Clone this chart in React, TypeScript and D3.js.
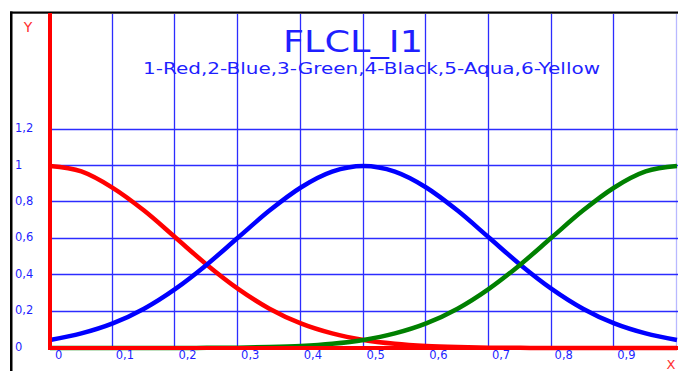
import React, { useEffect, useRef } from 'react';
import * as d3 from 'd3';

const xs = [0, 0.05, 0.1, 0.15, 0.2, 0.25, 0.3, 0.35, 0.4, 0.45, 0.5,
  0.55, 0.6, 0.65, 0.7, 0.75, 0.8, 0.85, 0.9, 0.95, 1];
const redValues = [1, 0.97, 0.88, 0.755, 0.607, 0.458, 0.325, 0.216, 0.135, 0.08, 0.044,
  0.023, 0.011, 0.005, 0.002, 0.001, 0, 0, 0, 0, 0];
const blueValues = [0.044, 0.08, 0.135, 0.216, 0.325, 0.458, 0.607, 0.755, 0.882, 0.969, 1,
  0.969, 0.882, 0.755, 0.607, 0.458, 0.325, 0.216, 0.135, 0.08, 0.044];
const greenValues = [0, 0, 0, 0, 0, 0.001, 0.002, 0.005, 0.011, 0.023, 0.044,
  0.08, 0.135, 0.216, 0.325, 0.458, 0.607, 0.755, 0.882, 0.97, 1];

const xTicks = [0, 0.1, 0.2, 0.3, 0.4, 0.5, 0.6, 0.7, 0.8, 0.9];
const xTickLabels = ['0', '0,1', '0,2', '0,3', '0,4', '0,5', '0,6', '0,7', '0,8', '0,9'];
const yTicks = [0, 0.2, 0.4, 0.6, 0.8, 1, 1.2];
const yTickLabels = ['0', '0,2', '0,4', '0,6', '0,8', '1', '1,2'];
const xGrid = [0.1, 0.2, 0.3, 0.4, 0.5, 0.6, 0.7, 0.8, 0.9, 1];
const yGrid = [0.2, 0.4, 0.6, 0.8, 1, 1.2];

const title = 'FLCL_I1';
const subtitle = '1-Red,2-Blue,3-Green,4-Black,5-Aqua,6-Yellow';

const series = [
  { name: 'Red', values: redValues, color: '#ff0000' },
  { name: 'Blue', values: blueValues, color: '#0000ff' },
  { name: 'Green', values: greenValues, color: '#008000' },
];

export default function App() {
  const node = useRef<SVGSVGElement>(null);

  useEffect(() => {
    const width = 678;
    const height = 371;
    const top = 13;
    const font = '"DejaVu Sans", Verdana, sans-serif';
    const gridColor = '#2c2cff';
    const textColor = '#1f1fff';

    const svg = d3.select(node.current);
    svg.selectAll('*').remove();

    const xScale = d3.scaleLinear().domain([0, 1]).range([50, 677]);
    const yScale = d3.scaleLinear().domain([0, 1]).range([348, 166]);

    svg.append('rect')
      .attr('width', width).attr('height', height).attr('fill', '#fff');

    // frame (left and top only, the rest is off the picture)
    svg.append('rect')
      .attr('x', 10).attr('y', 11.5)
      .attr('width', 2.5).attr('height', height)
      .attr('fill', '#000');
    svg.append('rect')
      .attr('x', 10).attr('y', 11.5)
      .attr('width', width).attr('height', 2.2)
      .attr('fill', '#000');

    // grid
    const grid = svg.append('g').attr('id', 'grid');
    grid.selectAll('line.v')
      .data(xGrid)
      .enter()
      .append('line')
      .attr('class', 'v')
      .attr('x1', (d) => Math.round(xScale(d)) - 0.5)
      .attr('x2', (d) => Math.round(xScale(d)) - 0.5)
      .attr('y1', top + 1)
      .attr('y2', yScale(0))
      .attr('stroke', (d) => (d === 1 ? '#b8b8ff' : gridColor))
      .attr('stroke-width', 1.3);
    grid.selectAll('line.h')
      .data(yGrid)
      .enter()
      .append('line')
      .attr('class', 'h')
      .attr('x1', xScale(0))
      .attr('x2', width)
      .attr('y1', (d) => Math.round(yScale(d)) - 0.5)
      .attr('y2', (d) => Math.round(yScale(d)) - 0.5)
      .attr('stroke', gridColor)
      .attr('stroke-width', 1.3);

    // titles
    svg.append('text')
      .attr('x', 283).attr('y', 52)
      .attr('textLength', 140)
      .attr('lengthAdjust', 'spacingAndGlyphs')
      .style('font-family', font)
      .style('font-size', '30px')
      .attr('fill', textColor)
      .text(title);
    svg.append('text')
      .attr('x', 143).attr('y', 74)
      .attr('textLength', 457)
      .attr('lengthAdjust', 'spacingAndGlyphs')
      .style('font-family', font)
      .style('font-size', '15px')
      .attr('fill', textColor)
      .text(subtitle);

    // curves
    const line = d3.line<number>()
      .x((_, i) => xScale(xs[i]))
      .y((d) => yScale(d))
      .curve(d3.curveMonotoneX);
    svg.selectAll('path.curve')
      .data(series)
      .enter()
      .append('path')
      .attr('class', 'curve')
      .attr('d', (d) => line(d.values))
      .attr('fill', 'none')
      .attr('stroke', (d) => d.color)
      .attr('stroke-width', 4.5);

    // axes
    svg.append('line')
      .attr('x1', 50).attr('x2', 50)
      .attr('y1', top).attr('y2', 350)
      .attr('stroke', '#ff0000').attr('stroke-width', 4);
    svg.append('line')
      .attr('x1', 48).attr('x2', width)
      .attr('y1', 348).attr('y2', 348)
      .attr('stroke', '#ff0000').attr('stroke-width', 4);

    // tick labels
    svg.selectAll('text.xt')
      .data(xTicks)
      .enter()
      .append('text')
      .attr('class', 'xt')
      .attr('x', (d) => xScale(d) + (d === 0 ? 5 : 3))
      .attr('y', 359)
      .style('font-family', font)
      .style('font-size', '11.5px')
      .attr('fill', textColor)
      .text((d, i) => xTickLabels[i]);
    svg.selectAll('text.yt')
      .data(yTicks)
      .enter()
      .append('text')
      .attr('class', 'yt')
      .attr('x', 15)
      .attr('y', (d) => yScale(d) + 2.5)
      .style('font-family', font)
      .style('font-size', '11.5px')
      .attr('fill', textColor)
      .text((d, i) => yTickLabels[i]);

    // axis names
    svg.append('text')
      .attr('x', 28).attr('y', 32)
      .attr('text-anchor', 'middle')
      .style('font-family', font)
      .style('font-size', '14px')
      .attr('fill', '#ff3030')
      .text('Y');
    svg.append('text')
      .attr('x', 671).attr('y', 369)
      .attr('text-anchor', 'middle')
      .style('font-family', font)
      .style('font-size', '13px')
      .attr('fill', '#ff3030')
      .text('X');
  }, []);

  return (
    <svg
      ref={node}
      width={678}
      height={371}
      style={{ position: 'fixed', left: 0, top: 0, display: 'block' }}
    />
  );
}
